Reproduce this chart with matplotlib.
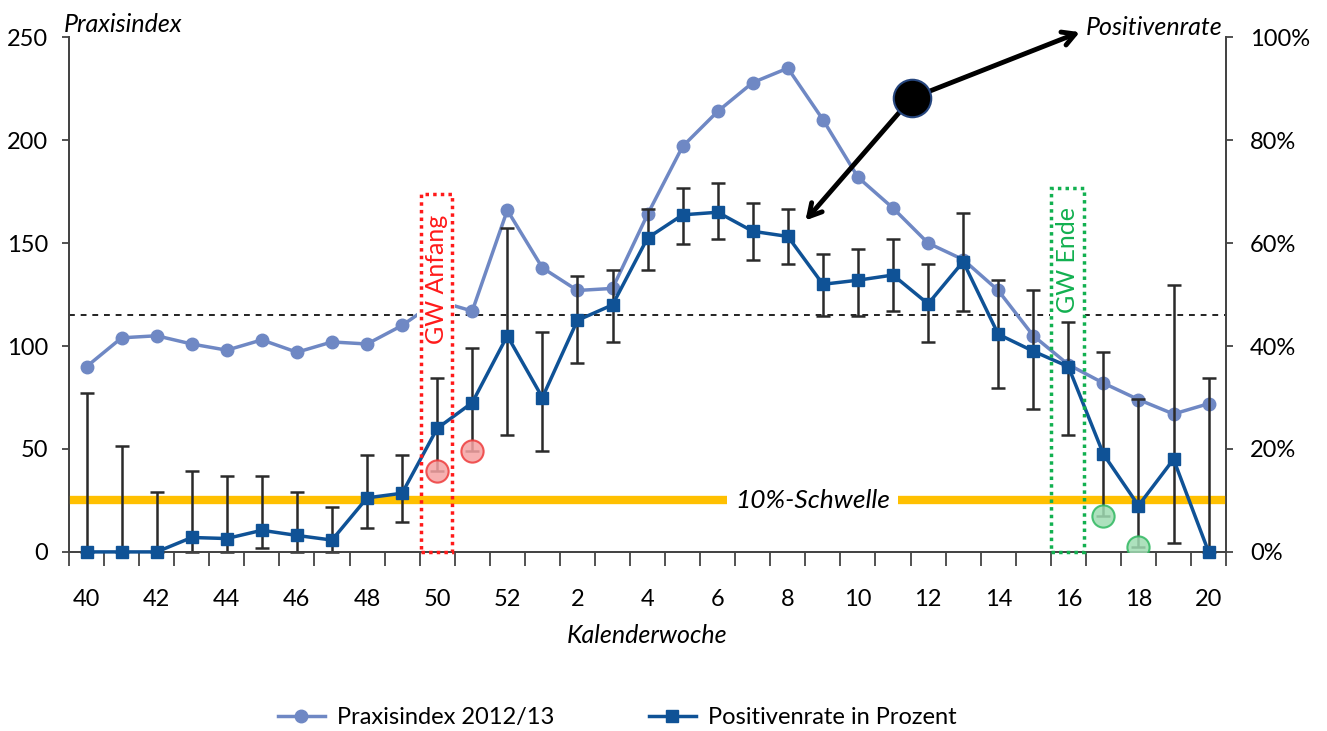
import numpy as np
import matplotlib
matplotlib.use('Agg')
import matplotlib.pyplot as plt

plt.rcParams['font.family'] = ['Lato', 'DejaVu Sans']

# calendar weeks 2012/13
weeks = [40, 41, 42, 43, 44, 45, 46, 47, 48, 49, 50, 51, 52,
         1, 2, 3, 4, 5, 6, 7, 8, 9, 10, 11, 12, 13, 14, 15, 16, 17, 18, 19, 20]

# Praxisindex (left axis)
praxisindex = [90, 104, 105, 101, 98, 103, 97, 102, 101, 110, 122, 117, 166,
               138, 127, 128, 164, 197, 214, 228, 235, 210, 182, 167, 150,
               142, 127, 105, 91, 82, 74, 67, 72]

# Positivenrate in percent (right axis) with confidence limits
positiv = [0, 0, 0, 2.8, 2.6, 4.2, 3.2, 2.3, 10.5, 11.4, 24, 29, 42,
           30, 45, 48, 61, 65.5, 66, 62.3, 61.3, 52, 52.8, 53.8, 48.2,
           56.4, 42.3, 39, 36, 19, 9, 18, 0]
positiv_hi = [30.8, 20.6, 11.7, 15.7, 14.8, 14.8, 11.7, 8.7, 18.8, 18.8, 33.7, 39.7, 62.9,
              42.8, 53.7, 54.8, 66.7, 70.8, 71.7, 67.8, 66.7, 57.9, 58.8, 60.8, 55.9,
              65.8, 52.8, 50.9, 44.7, 38.8, 29.7, 51.8, 33.7]
positiv_lo = [0, 0, 0, 0, 0, 0.7, 0, 0, 4.7, 5.8, 15.8, 19.7, 22.7,
              19.7, 36.8, 40.8, 54.8, 59.8, 60.8, 56.8, 55.9, 45.9, 45.9, 46.8, 40.8,
              46.8, 31.8, 27.8, 22.7, 6.9, 1.0, 1.7, 0]

baseline_index = 115      # dashed line
threshold_pct = 10        # 10%-Schwelle
gw_start = 50             # GW Anfang
gw_end = 16               # GW Ende
red_weeks = [50, 51]
green_weeks = [17, 18]

c_praxis = '#6f88c4'
c_pos = '#0f5296'

x = np.arange(len(weeks))
pos = np.array(positiv)
err = np.array([pos - np.array(positiv_lo), np.array(positiv_hi) - pos])

fig = plt.figure(figsize=(13.27, 7.31), dpi=100)
ax = fig.add_axes([0.052, 0.245, 0.872, 0.704])
ax2 = ax.twinx()

ax.set_xlim(-0.5, len(weeks) - 0.5)
ax.set_ylim(0, 250)
ax2.set_ylim(0, 100)

# Praxisindex
ax.plot(x, praxisindex, color=c_praxis, lw=2.5, marker='o', ms=9, zorder=3)
ax.axhline(baseline_index, color='#222222', lw=1.4, ls=(0, (3, 3)), zorder=2)

# Positivenrate
ax2.axhline(threshold_pct, color='#ffc000', lw=6, zorder=1)
ax2.errorbar(x, pos, yerr=err, fmt='none', ecolor='#2a2a2a', elinewidth=1.8,
             capsize=5, capthick=1.8, zorder=2, clip_on=False)
ax2.plot(x, pos, color=c_pos, lw=2.5, marker='s', ms=9, zorder=4, clip_on=False)

# highlighted lower limits
for w in red_weeks:
    i = weeks.index(w)
    ax2.plot(i, positiv_lo[i], 'o', ms=16, mfc='#f5a3a3', mec='#ee3b3b', mew=1.5,
             alpha=0.85, zorder=3)
for w in green_weeks:
    i = weeks.index(w)
    ax2.plot(i, positiv_lo[i], 'o', ms=16, mfc='#9fdcb2', mec='#2fb860', mew=1.5,
             alpha=0.85, zorder=3)

# GW boxes
i0 = weeks.index(gw_start)
ax2.add_patch(plt.Rectangle((i0 - 0.47, 0), 0.9, 69.5, fill=False, ec='#ff1a1a',
                            lw=2.5, ls=(0, (1, 1.2)), zorder=7, clip_on=False))
ax2.text(i0 - 0.02, 65.5, 'GW Anfang', rotation=90, color='#ff1a1a', fontsize=18,
         ha='center', va='top', zorder=6,
         bbox=dict(boxstyle='square,pad=0.3', fc='white', ec='none'))
i1 = weeks.index(gw_end)
ax2.add_patch(plt.Rectangle((i1 - 0.49, 0), 0.93, 70.8, fill=False, ec='#12b050',
                            lw=2.5, ls=(0, (1, 1.2)), zorder=7, clip_on=False))
ax2.text(i1 - 0.03, 67, 'GW Ende', rotation=90, color='#12b050', fontsize=18,
         ha='center', va='top', zorder=6,
         bbox=dict(boxstyle='square,pad=0.25', fc='white', ec='none'))

ax2.text(20.7, threshold_pct, '10%-Schwelle', fontsize=19, style='italic',
         ha='center', va='center', zorder=6,
         bbox=dict(boxstyle='square,pad=0.3', fc='white', ec='none'))

# arrows
ax.annotate('', xy=(28.4, 253), xytext=(23.53, 220.4), annotation_clip=False,
            arrowprops=dict(arrowstyle='->,head_length=0.9,head_width=0.5',
                            color='black', lw=3.5))
ax.annotate('', xy=(20.45, 160), xytext=(23.53, 220.4), annotation_clip=False,
            arrowprops=dict(arrowstyle='->,head_length=0.9,head_width=0.5',
                            color='black', lw=3.5))
ax.plot(23.53, 220.4, 'o', ms=27, mfc='black', mec='#26467e', mew=1.5,
        zorder=7, clip_on=False)

# axes styling
ax.set_xticks(x[::2])
ax.set_xticklabels([str(w) for w in weeks[::2]])
ax.set_xticks(np.arange(-0.5, len(weeks)), minor=True)
ax.tick_params(axis='x', which='major', length=0, pad=27, labelsize=17)
ax.tick_params(axis='x', which='minor', length=10, width=1.3, color='#444444',
               direction='out')
ax.set_yticks([0, 50, 100, 150, 200, 250])
ax.tick_params(axis='y', length=5, width=1.3, color='#444444', labelsize=17, pad=10)
ax2.set_yticks([0, 20, 40, 60, 80, 100])
ax2.set_yticklabels([f'{v}%' for v in [0, 20, 40, 60, 80, 100]])
ax2.tick_params(axis='y', length=5, width=1.3, color='#444444', labelsize=17, pad=12)

for a in (ax, ax2):
    a.spines['top'].set_visible(False)
    for s in ('left', 'right', 'bottom'):
        a.spines[s].set_color('#444444')
        a.spines[s].set_linewidth(1.3)

ax.set_xlabel('Kalenderwoche', fontsize=18, style='italic', labelpad=10)
fig.text(0.048, 0.967, 'Praxisindex', fontsize=18, style='italic', ha='left', va='center')
fig.text(0.921, 0.963, 'Positivenrate', fontsize=18, style='italic', ha='right', va='center')

# legend
h1, = ax.plot([], [], color=c_praxis, lw=2.5, marker='o', ms=9)
h2, = ax.plot([], [], color=c_pos, lw=2.5, marker='s', ms=9)
fig.legend([h1, h2], ['Praxisindex 2012/13', 'Positivenrate in Prozent'],
           loc='center', bbox_to_anchor=(0.465, 0.018), ncol=2, frameon=False,
           fontsize=17, columnspacing=4, handlelength=2, handletextpad=0.5)

fig.savefig('out.png', dpi=100)
